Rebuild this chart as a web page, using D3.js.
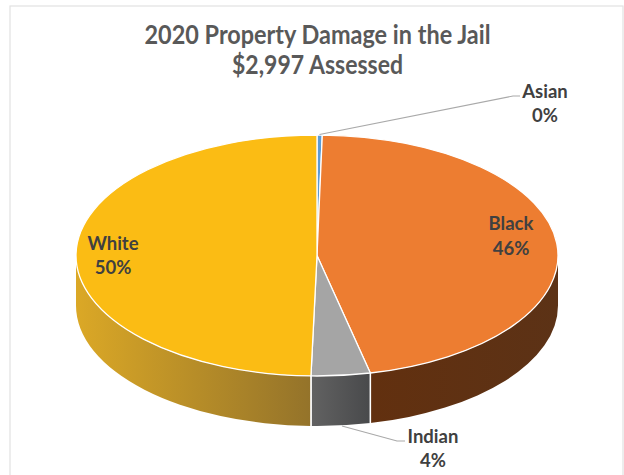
<!DOCTYPE html>
<html><head><meta charset="utf-8">
<script src="https://cdn.jsdelivr.net/npm/d3@7"></script>
<style>html,body{margin:0;padding:0;background:#fff}svg{display:block}text{font-family:Lato,"Open Sans",sans-serif}</style>
</head><body><svg id="c" width="624" height="475"></svg>
<script>
const categories = ["Asian","Black","Indian","White"];
const values = [0.35,46.1,3.95,49.6];
const percentLabels = ["0%","46%","4%","50%"];
const topColors = ["#5B9BD5","#ED7D31","#A5A5A5","#FBBC14"];
const titleLines = ["2020 Property Damage in the Jail","$2,997 Assessed"];

const W=624,H=475,cx=317,cy=255.5,rx=241,ry=120.5,depth=50;
const svg=d3.select("#c");
const defs=svg.append("defs");
function grad(id,x1,x2,c1,c2){
  const g=defs.append("linearGradient").attr("id",id).attr("gradientUnits","userSpaceOnUse")
    .attr("x1",x1).attr("x2",x2).attr("y1",0).attr("y2",0);
  g.append("stop").attr("offset",0).attr("stop-color",c1);
  g.append("stop").attr("offset",1).attr("stop-color",c2);
}
grad("gWhite",76,311,"#DBA826","#94732A");
grad("gBlack",371,558,"#62300F","#5C3216");
grad("gIndian",311,371,"#626262","#48494B");
const sideFill={Asian:"#2d5f8f",Black:"url(#gBlack)",Indian:"url(#gIndian)",White:"url(#gWhite)"};

svg.append("rect").attr("x",10).attr("y",6).attr("width",613).attr("height",480)
  .attr("fill","#fff").attr("stroke","#e2e2e2").attr("stroke-width",1.2);

const pie=d3.pie().sort(null).startAngle(0).endAngle(2*Math.PI);
const arcs=pie(values).map((d,i)=>({...d,name:categories[i]}));
const px=t=>cx+rx*Math.sin(t), py=t=>cy-ry*Math.cos(t);

const frontA=Math.PI/2, frontB=3*Math.PI/2;
arcs.forEach(d=>{
  const a=Math.max(d.startAngle,frontA), b=Math.min(d.endAngle,frontB);
  if(b<=a) return;
  const p=`M${px(a)},${py(a)}A${rx},${ry} 0 0 1 ${px(b)},${py(b)}L${px(b)},${py(b)+depth}A${rx},${ry} 0 0 0 ${px(a)},${py(a)+depth}Z`;
  svg.append("path").attr("d",p).attr("fill",sideFill[d.name]);
  [a,b].forEach(t=>{ if(t>frontA&&t<frontB)
    svg.append("line").attr("x1",px(t)).attr("x2",px(t)).attr("y1",py(t)).attr("y2",py(t)+depth)
      .attr("stroke","#fff").attr("stroke-width",1.5);});
});
arcs.forEach((d,i)=>{
  const large=d.endAngle-d.startAngle>Math.PI?1:0;
  svg.append("path")
   .attr("d",`M${cx},${cy}L${px(d.startAngle)},${py(d.startAngle)}A${rx},${ry} 0 ${large} 1 ${px(d.endAngle)},${py(d.endAngle)}Z`)
   .attr("fill",topColors[i]).attr("stroke","#fff").attr("stroke-width",1.3).attr("stroke-linejoin","round");
});

const leaders=[[[319.5,134.5],[513,96],[520,96]],[[342,426],[397,441],[405,441]]];
leaders.forEach(l=>svg.append("path").attr("d",d3.line()(l)).attr("fill","none").attr("stroke","#a9a9a9").attr("stroke-width",1.2));

const title=svg.append("g").attr("text-anchor","middle").attr("fill","#595959").attr("font-size",26).attr("font-weight",700);
title.append("text").attr("x",317.5).attr("y",44).attr("textLength",346).attr("lengthAdjust","spacingAndGlyphs").text(titleLines[0]);
title.append("text").attr("x",317.5).attr("y",74).attr("textLength",171).attr("lengthAdjust","spacingAndGlyphs").text(titleLines[1]);

const labelPos={Asian:[545,98,122],Black:[511,230,255],Indian:[433,443,467],White:[113,250,274]};
categories.forEach((c,i)=>{
  const [x,y1,y2]=labelPos[c];
  const g=svg.append("g").attr("text-anchor","middle").attr("fill","#404040").attr("font-size",18.5).attr("font-weight",700);
  g.append("text").attr("x",x).attr("y",y1).text(c);
  g.append("text").attr("x",x).attr("y",y2).text(percentLabels[i]);
});
</script></body></html>
